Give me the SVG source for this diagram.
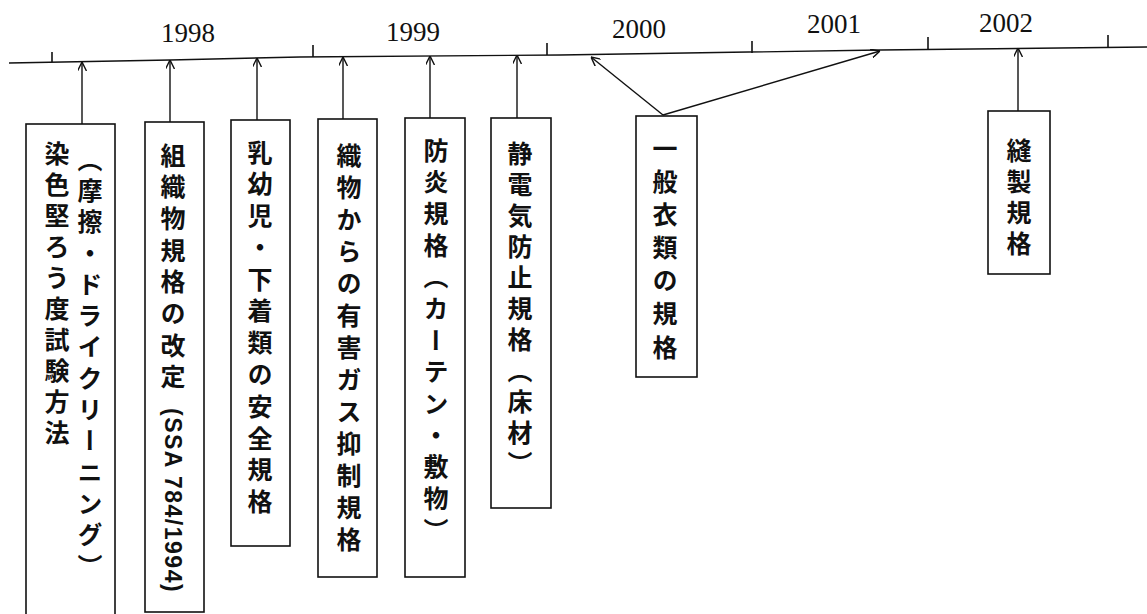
<svg xmlns="http://www.w3.org/2000/svg" width="1147" height="614" viewBox="0 0 1147 614">
<style>
.box{fill:#fff;stroke:#111;stroke-width:1.6}
.ln{fill:none;stroke:#111;stroke-width:1.4}
.tk{stroke:#111;stroke-width:1.6}
.yr{font-family:"Liberation Serif",serif;font-size:27px;fill:#111;text-anchor:middle}
.vt{font-family:"Noto Sans CJK JP","Noto Sans CJK SC",sans-serif;font-size:25px;font-weight:700;fill:#111;writing-mode:vertical-rl}
.lat{font-family:"Liberation Sans",sans-serif;font-size:23px;font-weight:700;fill:#111;writing-mode:vertical-rl;letter-spacing:1.5px}
</style>
<defs>
<marker id="ah" viewBox="0 0 10 10" refX="10" refY="5" markerWidth="9" markerHeight="9" markerUnits="userSpaceOnUse" orient="auto">
<path d="M0,0 L10,5 L0,10" fill="none" stroke="#111" stroke-width="1.6"/>
</marker>
</defs>
<rect width="1147" height="614" fill="#fff"/>
<g id="timeline">
<polyline class="ln" points="9,63 170,60 300,57 560,55 880,50 1147,47"/>
<line class="tk" x1="52" y1="52" x2="52" y2="62"/>
<line class="tk" x1="313" y1="45" x2="313" y2="57"/>
<line class="tk" x1="547" y1="43" x2="547" y2="55"/>
<line class="tk" x1="752" y1="41" x2="752" y2="53"/>
<line class="tk" x1="928" y1="37" x2="928" y2="49"/>
<line class="tk" x1="1108" y1="35" x2="1108" y2="47"/>
<text class="yr" x="188" y="42">1998</text>
<text class="yr" x="413" y="41">1999</text>
<text class="yr" x="639" y="38">2000</text>
<text class="yr" x="834" y="33">2001</text>
<text class="yr" x="1006" y="32">2002</text>
</g>
<g id="connectors">
<line class="ln" x1="82" y1="124" x2="82" y2="62" marker-end="url(#ah)"/>
<line class="ln" x1="170" y1="122" x2="170" y2="60" marker-end="url(#ah)"/>
<line class="ln" x1="257" y1="120" x2="257" y2="58" marker-end="url(#ah)"/>
<line class="ln" x1="343" y1="119" x2="343" y2="57" marker-end="url(#ah)"/>
<line class="ln" x1="430" y1="118" x2="430" y2="56" marker-end="url(#ah)"/>
<line class="ln" x1="517" y1="118" x2="517" y2="55" marker-end="url(#ah)"/>
<line class="ln" x1="663" y1="115" x2="591" y2="57" marker-end="url(#ah)"/>
<line class="ln" x1="663" y1="115" x2="880" y2="51" marker-end="url(#ah)"/>
<line class="ln" x1="1018" y1="111" x2="1018" y2="48" marker-end="url(#ah)"/>
</g>
<g id="n1">
<rect class="box" x="26" y="124" width="89" height="500"/>
<text class="vt" x="90" y="146.7" style="letter-spacing:6.3px">（摩擦・ドライクリーニング）</text>
<text class="vt" x="57" y="140.5" style="letter-spacing:6px">染色堅ろう度試験方法</text>
</g>
<g id="n2">
<rect class="box" x="145" y="122" width="59" height="490"/>
<text class="vt" x="173" y="142.5" style="letter-spacing:6.7px">組織物規格の改定</text>
<text class="lat" x="173" y="408">(SSA 784/1994)</text>
</g>
<g id="n3">
<rect class="box" x="231" y="120" width="59" height="426"/>
<text class="vt" x="260" y="139.5" style="letter-spacing:6.8px">乳幼児・下着類の安全規格</text>
</g>
<g id="n4">
<rect class="box" x="318" y="119" width="59" height="458"/>
<text class="vt" x="349" y="142.5" style="letter-spacing:7px">織物からの有害ガス抑制規格</text>
</g>
<g id="n5">
<rect class="box" x="405" y="118" width="60" height="459"/>
<text class="vt" x="436" y="137.5" style="letter-spacing:6.7px">防炎規格（カーテン・敷物）</text>
</g>
<g id="n6">
<rect class="box" x="491" y="118" width="60" height="390"/>
<text class="vt" x="520" y="140.5" style="letter-spacing:6px">静電気防止規格（床材）</text>
</g>
<g id="n7">
<rect class="box" x="636" y="116" width="61" height="261"/>
<text class="vt" x="665" y="135.5" style="letter-spacing:8.2px">一般衣類の規格</text>
</g>
<g id="n8">
<rect class="box" x="988" y="111" width="62" height="163"/>
<text class="vt" x="1019" y="137.5" style="letter-spacing:6px">縫製規格</text>
</g>
</svg>
